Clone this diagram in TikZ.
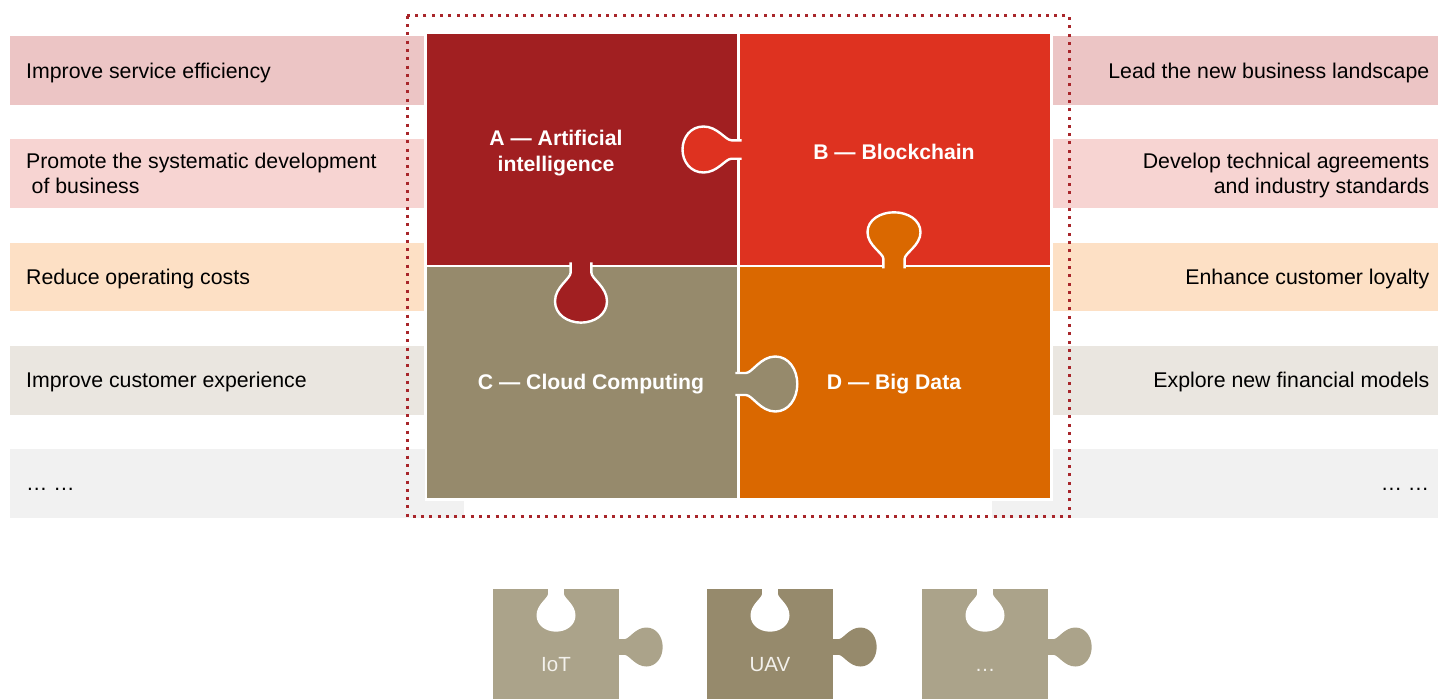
\documentclass[tikz,border=0pt]{standalone}
\usepackage{fontspec}
\setmainfont{Liberation Sans}
\usepackage{tikz}

\definecolor{pieceA}{HTML}{A11F21}
\definecolor{pieceB}{HTML}{DE3220}
\definecolor{pieceC}{HTML}{968A6C}
\definecolor{pieceD}{HTML}{DA6800}
\definecolor{pieceE}{HTML}{ABA38A}
\definecolor{rowA}{HTML}{ECC5C5}
\definecolor{rowB}{HTML}{F7D4D2}
\definecolor{rowC}{HTML}{FDE0C5}
\definecolor{rowD}{HTML}{EAE6E0}
\definecolor{rowE}{HTML}{F1F1F1}
\definecolor{frame}{HTML}{A8252A}
\definecolor{softwhite}{HTML}{F3F1EC}

\newcommand{\knob}{(-10,-3) -- (-10,7) .. controls (-10,13) and (-25,21) .. (-25,35) .. controls (-25,48) and (-13,56) .. (0,56) .. controls (13,56) and (25,48) .. (25,35) .. controls (25,21) and (10,13) .. (10,7) -- (10,-3)}

\begin{document}
\begin{tikzpicture}[x=1pt,y=-1pt,
		rowtext/.style={inner sep=0pt, text depth=0pt, font=\fontsize{21.3}{25.3}\selectfont},
		piecetext/.style={inner sep=0pt, text=white, align=center, font=\bfseries\fontsize{21.2}{26}\selectfont},
		tabline/.style={draw=white, line width=2.4pt},
		smalltext/.style={inner sep=0pt, text depth=0pt, text=softwhite, font=\fontsize{20.5}{24}\selectfont}]
		\useasboundingbox (0,0) rectangle (1438,699);
		
		\foreach \i/\y/\col/\lw/\rx/\ltext/\rtext in {
			1/70.4/rowA/414/1052.7/{Improve service efficiency}/{Lead the new business landscape},
			2/173.6/rowB/414/1052.7/{Promote the systematic development\\\hspace*{5.5pt}of business}/{Develop technical agreements\\and industry standards},
			3/276.9/rowC/414/1052.7/{Reduce operating costs}/{Enhance customer loyalty},
			4/380.2/rowD/414/1052.7/{Improve customer experience}/{Explore new financial models},
			5/483.4/rowE/454/991.5/{\vphantom{I}… …}/{\vphantom{I}… …}}
		{
			\fill[\col] (10,\y-34.3) rectangle ++(\lw,68.6);
			\fill[\col] (\rx,\y-34.3) rectangle (1438,\y+34.3);
			\node[rowtext, anchor=west, align=left] (left\i) at (26,\y) {\ltext};
			\node[rowtext, anchor=east, align=right] (right\i) at (1429.5,\y) {\rtext};
		}
		
		\fill[white] (424.5,31) rectangle (1052.7,501);
		\fill[pieceA] (427,34) rectangle (737,264.5);
		\fill[pieceB] (740,34) rectangle (1050,264.5);
		\fill[pieceC] (427,266.5) rectangle (737,498);
		\fill[pieceD] (740,266.5) rectangle (1050,498);
		\foreach \pos/\ang/\col/\sx/\sy in {{(581,265.5)}/0/pieceA/1.04/1.02, {(894,265.5)}/180/pieceD/1.06/0.95,
			{(738.5,384)}/90/pieceC/1.1/1.05, {(738.5,149.5)}/-90/pieceB/0.92/1}
			\path[shift={\pos}, rotate=\ang, xscale=\sx, yscale=\sy, fill=\col, tabline] \knob;
		
		\node[piecetext] (ai) at (556,153.5) {A — Artificial\\intelligence};
		\node[piecetext] (chain) at (894,152) {B — Blockchain};
		\node[piecetext] (cloud) at (591,384) {C — Cloud Computing};
		\node[piecetext] (data) at (894,384) {D — Big Data};
		
		\foreach \x/\col/\name/\txt in {493/pieceE/iot/IoT, 707/pieceC/uav/UAV, 922/pieceE/more/{\vphantom{I}…}}
		{
			\fill[\col] (\x,589) rectangle ++(126,110);
			\fill[\col, shift={(\x+126,647)}, rotate=90, scale=0.78] \knob;
			\fill[white, shift={(\x+63,588)}, scale=0.78] \knob;
			\node[smalltext] (\name) at (\x+63,664) {\txt};
		}
		
		\draw[frame, line width=3pt, dash pattern=on 3pt off 5.3pt] (407.3,15.7) rectangle (1069.5,516.7);
	\end{tikzpicture}
\end{document}
